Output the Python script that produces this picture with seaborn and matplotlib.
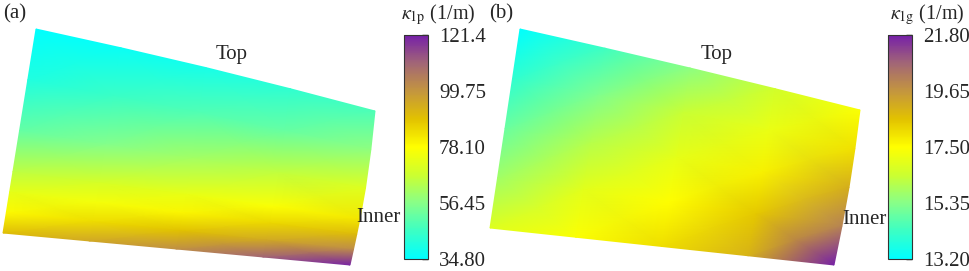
import numpy as np
import matplotlib.pyplot as plt
import seaborn as sns

sns.set_style('white')
plt.rcParams['font.family'] = ['Liberation Serif', 'DejaVu Serif']
plt.rcParams['mathtext.fontset'] = 'stix'

# plate outlines: top-left, top-right, bottom-right, bottom-left (drawing units)
corners_a = [(36, 29), (375, 111), (350, 265), (3, 233)]
corners_b = [(520, 29), (860, 110), (834, 265), (490, 228)]

# node grid across the plate (u: left->right, v: top->bottom)
u_cols = [0, 0.25, 0.5, 0.75, 1]
v_rows_a = [0, 0.25, 0.5, 0.7, 0.8, 0.9, 1]
v_rows_b = [0, 0.25, 0.5, 0.75, 1]

# curvature kappa_1p (1/m) at nodes, panel (a)
kappa_1p = [
    [34.8, 36.5, 39.0, 43.5, 48.0],
    [40.8, 45.5, 48.7, 52.0, 57.5],
    [51.6, 56.0, 61.0, 65.8, 71.0],
    [65.1, 69.4, 73.7, 77.1, 82.4],
    [72.7, 75.9, 79.7, 85.3, 90.8],
    [79.1, 84.2, 89.1, 95.1, 102.3],
    [90.0, 95.6, 101.4, 110.6, 121.0],
]
# curvature kappa_1g (1/m) at nodes, panel (b)
kappa_1g = [
    [13.20, 14.32, 15.44, 16.55, 17.41],
    [14.06, 15.26, 16.38, 17.07, 18.02],
    [14.92, 16.12, 16.98, 17.76, 19.05],
    [15.78, 16.90, 17.50, 18.45, 20.08],
    [16.81, 17.41, 18.10, 18.96, 21.80],
]

ticks_a = [34.80, 56.45, 78.10, 99.75, 121.4]
ticks_b = [13.20, 15.35, 17.50, 19.65, 21.80]
tick_labels_a = ['34.80', '56.45', '78.10', '99.75', '121.4']
tick_labels_b = ['13.20', '15.35', '17.50', '19.65', '21.80']

cmap = sns.blend_palette(['#00FFFF', '#3CFFC4', '#88FF88', '#CCFF30', '#FFFF00',
                          '#E2C200', '#C4963E', '#A26676', '#7620A8'], as_cmap=True)


def plate_nodes(corners, u, v, bulge):
    tl, tr, br, bl = [np.array(c, float) for c in corners]
    U, V = np.meshgrid(u, v)
    P = (((1 - U) * (1 - V))[..., None] * tl + (U * (1 - V))[..., None] * tr
         + (U * V)[..., None] * br + ((1 - U) * V)[..., None] * bl)
    X = P[..., 0] + bulge[0] * np.sin(np.pi * V) * U
    Y = P[..., 1] - bulge[1] * np.sin(np.pi * U) * (1 - V)
    return X, Y


fig = plt.figure(figsize=(9.69, 2.71), dpi=100)
ax = fig.add_axes([0, 0, 1, 1])
ax.set_xlim(0, 969)
ax.set_ylim(271, 0)
ax.axis('off')

Xa, Ya = plate_nodes(corners_a, u_cols, v_rows_a, (3, 2.5))
ma = ax.pcolormesh(Xa, Ya, np.array(kappa_1p), cmap=cmap, shading='gouraud',
                   vmin=ticks_a[0], vmax=ticks_a[-1])
Xb, Yb = plate_nodes(corners_b, u_cols, v_rows_b, (2, 1.5))
mb = ax.pcolormesh(Xb, Yb, np.array(kappa_1g), cmap=cmap, shading='gouraud',
                   vmin=ticks_b[0], vmax=ticks_b[-1])

fs = 15
ax.text(3, 14, '(a)', ha='left', va='center', fontsize=fs)
ax.text(489, 14, '(b)', ha='left', va='center', fontsize=fs)
ax.text(232, 54, 'Top', ha='center', va='center', fontsize=fs)
ax.text(717, 54, 'Top', ha='center', va='center', fontsize=fs)
ax.text(356, 218, 'Inner', ha='left', va='center', fontsize=fs)
ax.text(842, 219, 'Inner', ha='left', va='center', fontsize=fs)

for m, left, ticks, labels, name, tx in [
        (ma, 404, ticks_a, tick_labels_a, r'$\kappa_{\rm 1p}$ (1/m)', 401),
        (mb, 888, ticks_b, tick_labels_b, r'$\kappa_{\rm 1g}$ (1/m)', 890)]:
    cax = fig.add_axes([left / 969, 12 / 271, 24 / 969, 224 / 271])
    cb = fig.colorbar(m, cax=cax, ticks=ticks)
    cb.ax.set_yticklabels(labels)
    cb.ax.tick_params(direction='in', length=4, width=1, labelsize=fs, pad=8,
                      right=True, left=False, color='black')
    cb.outline.set_linewidth(0.8)
    cb.outline.set_edgecolor('#333333')
    fig.text(tx / 969, 1 - 15 / 271, name, ha='left', va='center', fontsize=14.5)

fig.savefig('out.png', dpi=100)
